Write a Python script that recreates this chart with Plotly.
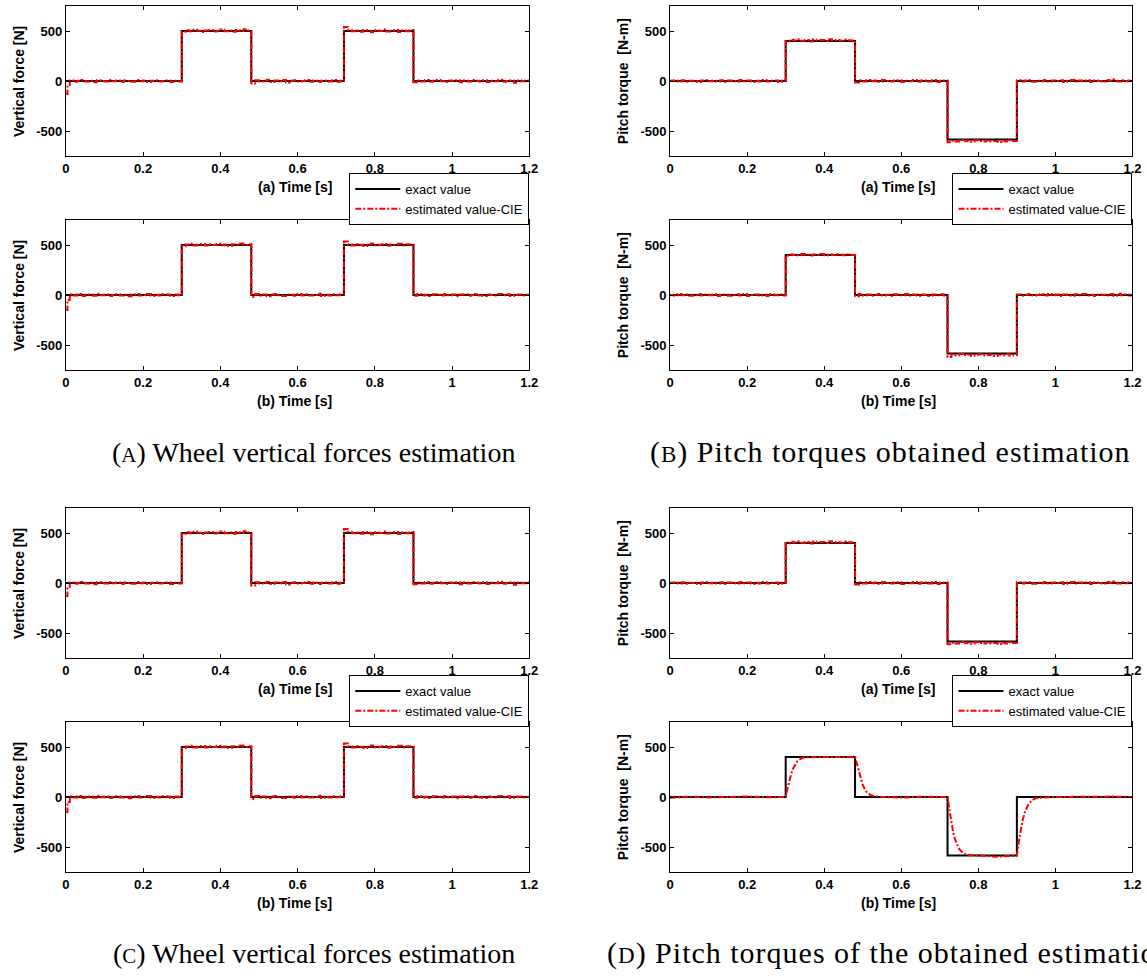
import plotly.graph_objects as go

W, H = 1147, 976

# ---------------- data ----------------
t_exact = [0, 0.3, 0.48, 0.72, 0.9, 1.2]
force_exact = [0, 500, 0, 500, 0, 0]
torque_exact = [0, 400, 0, -585, 0, 0]

# time samples of the estimates (a short extra sample right after t=0 for the start-up spike)
t_est = [0.0, 0.004] + [round(i * 0.01, 2) for i in range(1, 121)]

force_est_a = ([-130, -40]
               + [5, -8, 3, 10, -6, 2, -12, 7, 0, -4, 9, -3, 6, -10, 4, 1, -7, 11, -2, 5, -9, 3, 8, -5, 0, 6, -11, 2, -4]
               + [492, 508, 497, 512, 503, 489, 506, 511, 495, 502, 515, 498, 504, 493, 509, 500, 517, 506]
               + [-25, 8, -6, 3, 12, -9, 4, -3, 10, -14, 2, 7, -5, 0, 9, -8, 5, -11, 3, 6, -4, 11, -7, 2]
               + [540, 512, 498, 505, 493, 510, 502, 488, 507, 499, 514, 496, 503, 509, 491, 505, 498, 511]
               + [-12, 6, -4, 9, -7, 3, 11, -2, -9, 5, 0, 8, -13, 4, -6, 10, 2, -5, 7, -10, 3, -3, 12, -8, 1, 6, -18, 4, -2, 5, -1])

force_est_b = ([-150, -50]
               + [7, -5, 10, -9, 2, 4, -7, 12, -3, 6, -10, 1, 8, -6, 3, -12, 5, 9, -4, 0, 11, -8, 2, -5, 7, 4, -9, 6, -2]
               + [488, 505, 512, 496, 503, 509, 494, 507, 500, 513, 497, 505, 491, 508, 502, 516, 499, 507]
               + [-20, 10, -7, 4, -12, 6, 9, -3, -10, 5, 2, -8, 11, -4, 7, -6, 0, 13, -9, 3, -5, 8, -2, 4]
               + [535, 508, 495, 511, 502, 490, 506, 514, 497, 503, 509, 492, 505, 500, 512, 496, 507, 503]
               + [-8, 10, -5, 3, -11, 7, 2, -6, 9, -3, 5, -12, 4, 8, -7, 1, 11, -4, -9, 6, 0, -5, 10, -2, 7, -10, 3, 5, -6, 2, -3])

torque_est_a = ([0, 4]
                + [6, -4, 8, -7, 3, 0, -9, 5, 10, -3, 2, -6, 7, -10, 4, 1, -5, 9, -2, 6, -8, 3, -4, 11, -6, 2, 5, -9, 4]
                + [398, 412, 405, 417, 402, 409, 396, 414, 407, 411, 400, 418, 405, 410, 403, 415, 408, 404]
                + [-15, 7, -5, 9, -3, 4, -8, 11, 0, -6, 5, 8, -10, 3, -2, 10, -7, 4, 6, -4, 9, -11, 2, 6]
                + [-612, -598, -605, -590, -603, -596, -608, -593, -601, -606, -594, -602, -599, -610, -597, -604, -592, -600]
                + [8, -5, 4, 10, -7, 2, -3, 9, -6, 5, 0, 7, -9, 3, 11, -4, 6, -2, 8, -10, 4, 1, -6, 9, 3, 14, -5, 7, -3, 5, 2])

torque_est_b = ([0, -3]
                + [-5, 9, -3, 6, -8, 2, 11, -6, 4, -2, 7, -10, 3, 5, -7, 0, 8, -4, 10, -9, 1, 6, -5, 3, -11, 7, -2, 4, -6]
                + [395, 406, 401, 398, 409, 403, 396, 405, 400, 410, 397, 404, 399, 407, 402, 398, 406, 401]
                + [-12, 9, -4, 6, -7, 3, 10, -5, 2, -9, 7, 0, -3, 11, -6, 4, -8, 5, 2, -10, 6, -3, 8, -5]
                + [-620, -596, -603, -589, -601, -594, -607, -598, -592, -604, -600, -595, -609, -597, -602, -591, -606, -599]
                + [6, -8, 3, 9, -4, 0, 7, -6, 10, -2, 4, -9, 5, 1, -7, 8, -3, 11, -5, 2, -10, 6, 3, -4, 9, -7, 12, -2, 5, -6, 3])

t_lag = [0, 0.05, 0.10, 0.15, 0.20, 0.25, 0.30, 0.305, 0.31, 0.315, 0.32, 0.325, 0.33, 0.34, 0.35,
         0.40, 0.45, 0.48, 0.485, 0.49, 0.495, 0.50, 0.505, 0.51, 0.52, 0.53, 0.55, 0.60, 0.65, 0.70,
         0.72, 0.725, 0.73, 0.735, 0.74, 0.745, 0.75, 0.76, 0.77, 0.80, 0.85, 0.88, 0.90, 0.905, 0.91,
         0.915, 0.92, 0.925, 0.93, 0.94, 0.95, 1.0, 1.05, 1.1, 1.15, 1.2]
torque_est_d = [-8, 3, -4, 2, 5, -3, 0, 90, 170, 240, 290, 330, 355, 385, 398,
                400, 401, 400, 330, 250, 180, 120, 80, 50, 20, 8, 0, -6, 3, -2,
                0, -130, -260, -360, -430, -480, -520, -560, -578, -585, -598, -590, -585, -450, -330,
                -230, -160, -110, -70, -30, -10, 0, 2, -3, 4, 0]

x_ticks = [0, 0.2, 0.4, 0.6, 0.8, 1.0, 1.2]
x_ticklabels = ["0", "0.2", "0.4", "0.6", "0.8", "1", "1.2"]
y_ticks = [-500, 0, 500]
y_ticklabels = ["-500", "0", "500"]

def caption(letter, rest, small, spacing):
    ls = f"letter-spacing:{spacing}px;"
    return (f"<span style='{ls}'>(</span><span style='font-size:{small}px;{ls}'>{letter}</span>"
            f"<span style='{ls}'>) {rest}</span>")

captions = [caption("A", "Wheel vertical forces estimation", 21, 0),
            caption("B", "Pitch torques obtained estimation", 23, 1.0),
            caption("C", "Wheel vertical forces estimation", 21, 0),
            caption("D", "Pitch torques of the obtained estimation", 23, 1.0)]

# ---------------- layout helpers ----------------
# horizontal pixel positions are corrected for the slight horizontal squeeze seen in the render
SX, OX = 0.99, 3.0

def px(p):
    return (p - OX) / SX / W

col_px = {0: (65, 529), 1: (670, 1133)}
row_px = {0: (6, 156), 1: (220, 370), 2: (508, 658), 3: (722, 872)}

def yd(top, bot):
    return [1 - bot / H, 1 - top / H]

panels = [
    (0, 0, "(a) Time [s]", "Vertical force [N]", force_exact, t_est, force_est_a, "hv", "legend"),
    (1, 0, "(b) Time [s]", "Vertical force [N]", force_exact, t_est, force_est_b, "hv", None),
    (0, 1, "(a) Time [s]", "Pitch torque  [N-m]", torque_exact, t_est, torque_est_a, "hv", "legend2"),
    (1, 1, "(b) Time [s]", "Pitch torque  [N-m]", torque_exact, t_est, torque_est_b, "hv", None),
    (2, 0, "(a) Time [s]", "Vertical force [N]", force_exact, t_est, force_est_a, "hv", "legend3"),
    (3, 0, "(b) Time [s]", "Vertical force [N]", force_exact, t_est, force_est_b, "hv", None),
    (2, 1, "(a) Time [s]", "Pitch torque  [N-m]", torque_exact, t_est, torque_est_a, "hv", "legend4"),
    (3, 1, "(b) Time [s]", "Pitch torque  [N-m]", torque_exact, t_lag, torque_est_d, "linear", None),
]

tick_font = dict(family="Liberation Sans, Arial", size=13, color="black", weight="bold")
fig = go.Figure()
annotations = []
layout = {}

for i, (r, c, xt, yt, ex, tt, ey, shape, leg) in enumerate(panels):
    n = i + 1
    xa = "x" if n == 1 else f"x{n}"
    ya = "y" if n == 1 else f"y{n}"
    xkey = "xaxis" if n == 1 else f"xaxis{n}"
    ykey = "yaxis" if n == 1 else f"yaxis{n}"
    x0, x1 = col_px[c]
    top, bot = row_px[r]
    layout[xkey] = dict(domain=[px(x0), px(x1)], range=[0, 1.2], anchor=ya,
                        tickvals=x_ticks, ticktext=x_ticklabels, ticks="inside", ticklen=4,
                        tickcolor="black", showline=True, linecolor="black", linewidth=1,
                        mirror="ticks", showgrid=False, zeroline=False, tickfont=tick_font)
    layout[ykey] = dict(domain=yd(top, bot), range=[-750, 750], anchor=xa,
                        tickvals=y_ticks, ticktext=y_ticklabels, ticks="inside", ticklen=4,
                        tickcolor="black", showline=True, linecolor="black", linewidth=1,
                        mirror="ticks", showgrid=False, zeroline=False, tickfont=tick_font)
    show = leg is not None
    fig.add_trace(go.Scatter(x=t_exact, y=ex, mode="lines", line=dict(color="black", width=2, shape="hv"),
                             name="exact value", xaxis=xa, yaxis=ya, showlegend=show,
                             legend=leg if leg else "legend"))
    fig.add_trace(go.Scatter(x=tt, y=ey, mode="lines",
                             line=dict(color="red", width=2, shape=shape, dash="6px,2px,2px,2px"),
                             name="estimated value-CIE", xaxis=xa, yaxis=ya, showlegend=show,
                             legend=leg if leg else "legend"))
    annotations.append(dict(text=f"<b>{xt}</b>", x=px((x0 + x1) / 2 - 3), y=1 - (bot + 31) / H,
                            xref="paper", yref="paper", showarrow=False, xanchor="center", yanchor="middle",
                            font=dict(family="Liberation Sans, Arial", size=14, color="black")))
    ytx = 18 if c == 0 else 623
    annotations.append(dict(text=f"<b>{yt}</b>", x=px(ytx), y=1 - (top + bot) / 2 / H,
                            xref="paper", yref="paper", showarrow=False, textangle=-90,
                            xanchor="center", yanchor="middle",
                            font=dict(family="Liberation Sans, Arial", size=14, color="black")))

cap_pos = [(313, 452, "center", 28), (891, 452, "center", 30), (313, 953, "center", 28), (605, 953, "left", 30)]
for txt, (cx, cy, anc, fs) in zip(captions, cap_pos):
    annotations.append(dict(text=txt, x=px(cx), y=1 - cy / H, xref="paper", yref="paper",
                            showarrow=False, xanchor=anc, yanchor="middle",
                            font=dict(family="Liberation Serif, Times New Roman", size=fs, color="black")))

leg_style = dict(bgcolor="white", bordercolor="black", borderwidth=1, itemwidth=45,
                 font=dict(family="Liberation Sans, Arial", size=13, color="black"),
                 xanchor="right", yanchor="top", tracegroupgap=0)
layout["legend"] = dict(x=px(529), y=1 - 173 / H, **leg_style)
layout["legend2"] = dict(x=px(1133), y=1 - 173 / H, **leg_style)
layout["legend3"] = dict(x=px(529), y=1 - 675 / H, **leg_style)
layout["legend4"] = dict(x=px(1133), y=1 - 675 / H, **leg_style)

fig.update_layout(width=W, height=H, autosize=False, margin=dict(l=0, r=0, t=0, b=0, pad=0),
                  paper_bgcolor="white", plot_bgcolor="white",
                  annotations=annotations, **layout)

fig.write_html("out.html")
